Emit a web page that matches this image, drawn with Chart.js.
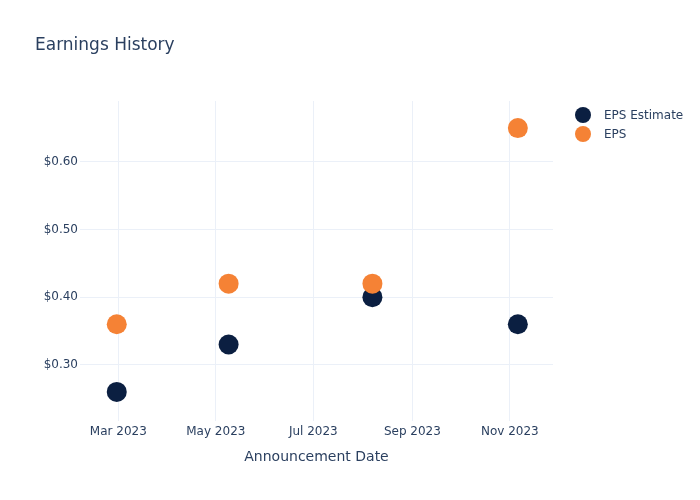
<!DOCTYPE html>
<html>
<head>
<meta charset="utf-8">
<script src="https://cdn.jsdelivr.net/npm/chart.js@4"></script>
<style>
  body { margin: 0; background: #fff; font-family: "DejaVu Sans", sans-serif; color: #2a3f5f; }
  #wrap { position: relative; width: 700px; height: 500px; }
  #title { position: absolute; left: 35px; top: 34px; font-size: 17px; }
  #legend { position: absolute; left: 575px; top: 105px; font-size: 12px; }
  .item { display: flex; align-items: center; height: 19px; }
  .dot { width: 16px; height: 16px; border-radius: 50%; margin-right: 13px; }
  canvas { position: absolute; left: 0; top: 0; }
</style>
</head>
<body>
<div id="wrap">
  <canvas id="chart" width="700" height="500"></canvas>
  <div id="title">Earnings History</div>
  <div id="legend"></div>
</div>
<script>
// data
const dates = ['2023-02-28', '2023-05-09', '2023-08-07', '2023-11-06'];
const epsEstimate = [0.26, 0.33, 0.40, 0.36];
const epsActual = [0.36, 0.42, 0.42, 0.65];
const yTicks = [0.30, 0.40, 0.50, 0.60];
const xTickDates = ['2023-03-01', '2023-05-01', '2023-07-01', '2023-09-01', '2023-11-01'];
const monthNames = ['Jan', 'Feb', 'Mar', 'Apr', 'May', 'Jun', 'Jul', 'Aug', 'Sep', 'Oct', 'Nov', 'Dec'];

const navy = '#0b1f41';
const orange = '#f58235';
const ink = '#2a3f5f';
const gridColor = '#ebf0f8';

const ts = d => Date.parse(d + 'T00:00:00Z');
const toPoints = vals => vals.map((v, i) => ({ x: ts(dates[i]), y: v }));

// html legend
const legendItems = [['EPS Estimate', navy], ['EPS', orange]];
document.getElementById('legend').innerHTML = legendItems.map(function(it) {
  return '<div class="item"><span class="dot" style="background:' + it[1] + '"></span>' + it[0] + '</div>';
}).join('');

Chart.defaults.font.family = '"DejaVu Sans", sans-serif';
Chart.defaults.color = ink;

new Chart(document.getElementById('chart'), {
  type: 'scatter',
  data: {
    datasets: [{
      label: 'EPS Estimate',
      data: toPoints(epsEstimate),
      backgroundColor: navy,
      borderWidth: 0,
      pointRadius: 10,
      order: 1
    }, {
      label: 'EPS',
      data: toPoints(epsActual),
      backgroundColor: orange,
      borderWidth: 0,
      pointRadius: 10,
      order: 0
    }]
  },
  options: {
    responsive: false,
    animation: false,
    layout: { padding: { left: 0, right: 147, top: 101, bottom: 34 } },
    plugins: {
      legend: { display: false },
      tooltip: { enabled: false }
    },
    scales: {
      x: {
        type: 'linear',
        min: ts('2023-02-05'),
        max: ts('2023-11-28'),
        afterBuildTicks: function(axis) {
          axis.ticks = xTickDates.map(d => ({ value: ts(d) }));
        },
        afterFit: function(axis) { axis.height = 45; },
        grid: { color: gridColor, drawTicks: false },
        border: { display: false },
        ticks: {
          padding: 4,
          maxRotation: 0,
          font: { size: 12 },
          callback: function(v) {
            const d = new Date(v);
            return monthNames[d.getUTCMonth()] + ' ' + d.getUTCFullYear();
          }
        },
        title: {
          display: true,
          text: 'Announcement Date',
          font: { size: 14 },
          padding: { top: 6, bottom: 0 }
        }
      },
      y: {
        min: 0.217,
        max: 0.69,
        afterBuildTicks: function(axis) {
          axis.ticks = yTicks.map(v => ({ value: v }));
        },
        afterFit: function(axis) { axis.width = 80; },
        grid: { color: gridColor, drawTicks: false },
        border: { display: false },
        ticks: {
          padding: 2,
          font: { size: 12 },
          callback: v => '$' + v.toFixed(2)
        }
      }
    }
  }
});
</script>
</body>
</html>
